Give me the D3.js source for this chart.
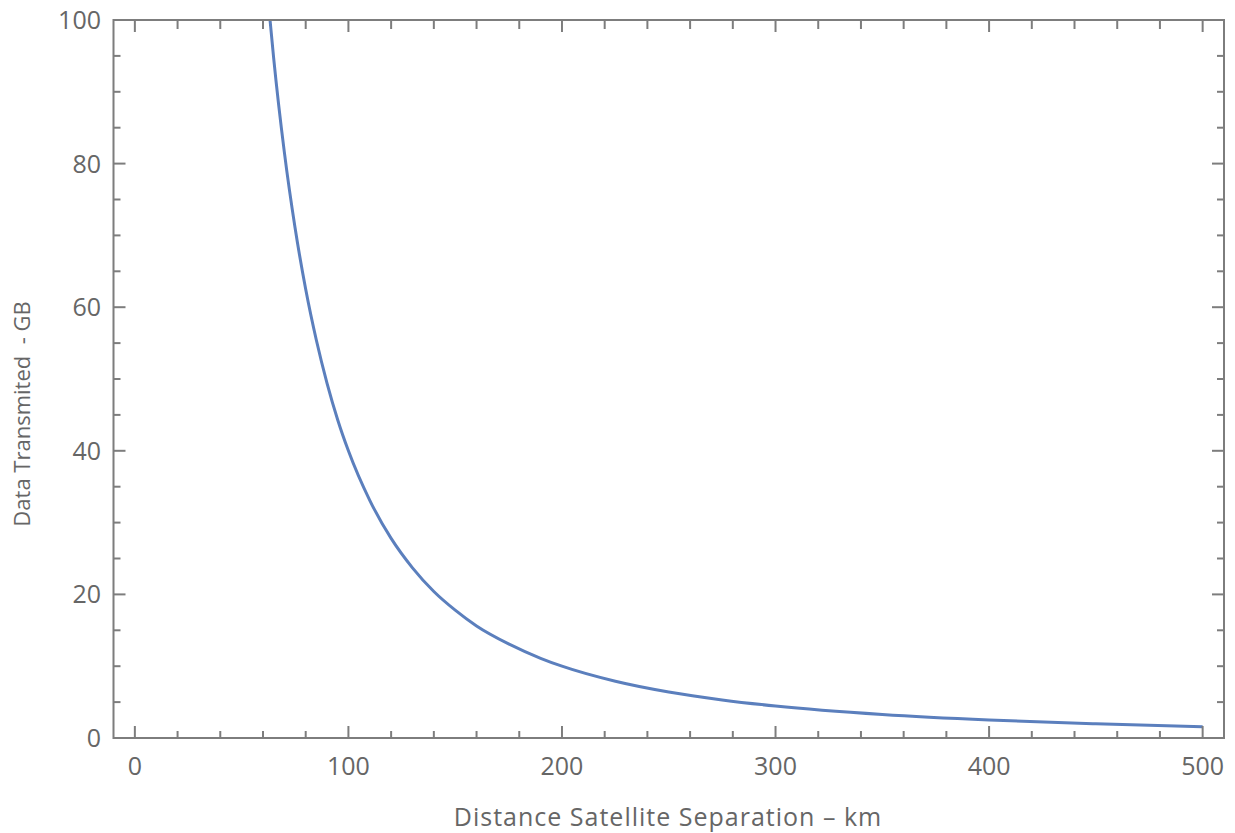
<!DOCTYPE html>
<html>
<head>
<meta charset="utf-8">
<script src="https://cdn.jsdelivr.net/npm/d3@7"></script>
<style>
  html, body { margin: 0; padding: 0; background: #fff; }
  svg { display: block; }
  text { font-family: "Open Sans", "DejaVu Sans", sans-serif; fill: #666; }
</style>
</head>
<body>
<svg id="chart" width="1235" height="833"></svg>
<script>
// Separation distance (km) and data volume (GB) along the curve
const distanceKm = [63.3, 65, 70, 75, 80, 85, 90, 95, 100, 110, 120, 130, 140, 150, 160, 175, 190, 200, 225, 250, 275, 300, 350, 400, 450, 500];
const dataGB     = [100, 94.7, 81.6, 71.1, 62.5, 55.4, 49.4, 44.3, 40, 33.1, 27.8, 23.7, 20.4, 17.8, 15.6, 13.1, 11.1, 10, 7.9, 6.4, 5.3, 4.45, 3.27, 2.5, 1.98, 1.58];

const xTicks = [0, 100, 200, 300, 400, 500];
const yTicks = [0, 20, 40, 60, 80, 100];
const xDomain = [-10, 510];
const yDomain = [0, 100];

const xLabel = "Distance Satellite Separation \u2013 km";
const yLabel = "Data Transmited  - GB";

const svg = d3.select("#chart");
const frame = { left: 113.5, right: 1224, top: 20, bottom: 738 };

const x = d3.scaleLinear().domain(xDomain).range([frame.left, frame.right]);
const y = d3.scaleLinear().domain(yDomain).range([frame.bottom, frame.top]);

const frameColor = "#7d7d7d";
const curveColor = "#5b7fbd";

// minor tick positions
const xMinor = d3.range(0, 501, 20).filter(v => !xTicks.includes(v));
const yMinor = d3.range(0, 101, 5).filter(v => !yTicks.includes(v));

const g = svg.append("g");

// clip for the curve
svg.append("defs").append("clipPath").attr("id", "plotClip")
  .append("rect")
  .attr("x", frame.left).attr("y", frame.top)
  .attr("width", frame.right - frame.left)
  .attr("height", frame.bottom - frame.top);

// curve
const line = d3.line()
  .x((d, i) => x(distanceKm[i]))
  .y((d, i) => y(dataGB[i]))
  .curve(d3.curveMonotoneX);

g.append("path")
  .datum(dataGB)
  .attr("d", line)
  .attr("clip-path", "url(#plotClip)")
  .attr("fill", "none")
  .attr("stroke", curveColor)
  .attr("stroke-width", 3)
  .attr("stroke-linejoin", "round")
  .attr("stroke-linecap", "butt");

// frame ticks
const tickStyle = sel => sel.attr("stroke", frameColor).attr("stroke-width", 2);
const major = 12, minorLen = 7, topMinor = 9;

// bottom & top
xTicks.forEach(v => {
  g.append("line").call(tickStyle).attr("x1", x(v)).attr("x2", x(v)).attr("y1", frame.bottom).attr("y2", frame.bottom - major);
  g.append("line").call(tickStyle).attr("x1", x(v)).attr("x2", x(v)).attr("y1", frame.top).attr("y2", frame.top + major);
});
xMinor.forEach(v => {
  g.append("line").call(tickStyle).attr("x1", x(v)).attr("x2", x(v)).attr("y1", frame.bottom).attr("y2", frame.bottom - minorLen);
  g.append("line").call(tickStyle).attr("x1", x(v)).attr("x2", x(v)).attr("y1", frame.top).attr("y2", frame.top + topMinor);
});
// left & right
yTicks.forEach(v => {
  g.append("line").call(tickStyle).attr("y1", y(v)).attr("y2", y(v)).attr("x1", frame.left).attr("x2", frame.left + major);
  g.append("line").call(tickStyle).attr("y1", y(v)).attr("y2", y(v)).attr("x1", frame.right).attr("x2", frame.right - major);
});
yMinor.forEach(v => {
  g.append("line").call(tickStyle).attr("y1", y(v)).attr("y2", y(v)).attr("x1", frame.left).attr("x2", frame.left + minorLen);
  g.append("line").call(tickStyle).attr("y1", y(v)).attr("y2", y(v)).attr("x1", frame.right).attr("x2", frame.right - minorLen);
});

// frame
g.append("rect")
  .attr("x", frame.left).attr("y", frame.top)
  .attr("width", frame.right - frame.left)
  .attr("height", frame.bottom - frame.top)
  .attr("fill", "none")
  .attr("stroke", frameColor)
  .attr("stroke-width", 2);

// tick labels
g.selectAll(".xt").data(xTicks).enter().append("text")
  .attr("x", d => x(d)).attr("y", 775)
  .attr("text-anchor", "middle")
  .attr("font-size", 25)
  .text(d => d);

g.selectAll(".yt").data(yTicks).enter().append("text")
  .attr("x", 101).attr("y", d => y(d))
  .attr("dy", "0.36em")
  .attr("text-anchor", "end")
  .attr("font-size", 25)
  .text(d => d);

// axis titles
g.append("text")
  .attr("x", 668).attr("y", 826)
  .attr("text-anchor", "middle")
  .attr("font-size", 25)
  .attr("letter-spacing", 1)
  .text(xLabel);

g.append("text")
  .attr("transform", "translate(30,414) rotate(-90)")
  .attr("text-anchor", "middle")
  .attr("font-size", 22)
  .style("white-space", "pre")
  .text(yLabel);
</script>
</body>
</html>
